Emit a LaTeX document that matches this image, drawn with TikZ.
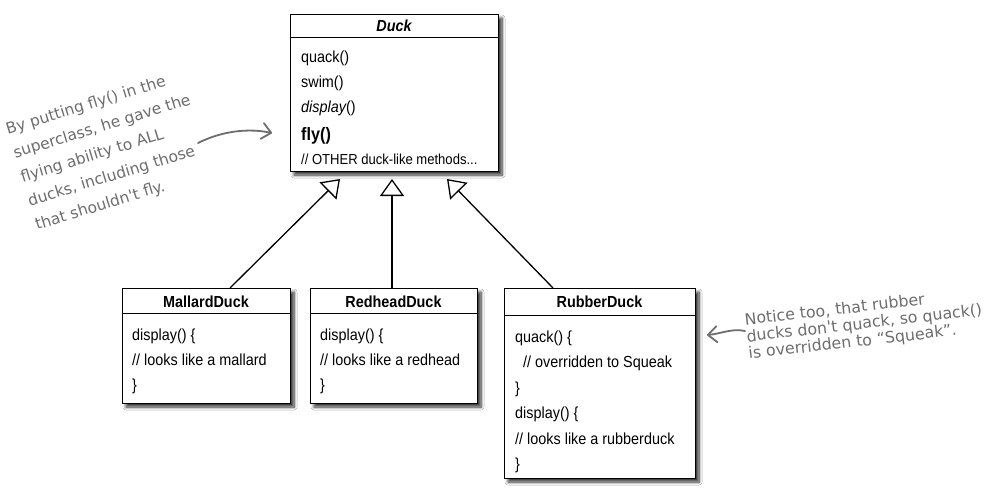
\documentclass[tikz,border=0pt]{standalone}
\usepackage{fontspec}
\usetikzlibrary{arrows.meta,shadows,shadows.blur}
\newfontfamily\boxfont[FakeStretch=0.9]{Liberation Sans}
\newfontfamily\notefont{DejaVu Sans}
\definecolor{notegrey}{HTML}{6E6E6E}
\begin{document}
\begin{tikzpicture}[x=1pt,y=-1pt,
  classbox/.style={draw=black, line width=0.9pt, fill=white, inner sep=0pt, outer sep=0pt,
    anchor=north west,
    blur shadow={shadow xshift=4pt, shadow yshift=-4pt, shadow blur steps=8, shadow blur radius=3pt, shadow opacity=80}},
  sep/.style={draw=black, line width=0.9pt},
  ln/.style={anchor=base west, inner sep=0pt, font=\boxfont\fontsize{16}{19}\selectfont},
  ttl/.style={anchor=base, inner sep=0pt, font=\boxfont\bfseries\fontsize{16}{19}\selectfont},
  inh/.style={draw=black, line width=1.3pt, -{Triangle[open, width=24pt, length=17pt, line width=1.3pt]}},
  note/.style={text=notegrey, align=left, inner sep=0pt, anchor=base west},
  hand/.style={draw=notegrey, line width=1.8pt, line cap=round,
    -{Straight Barb[length=9pt, width=16pt, line width=1.8pt, round]}}
]
\useasboundingbox[fill=white] (0,0) rectangle (994,498);

% ---- Duck
\node[classbox, minimum width=208pt, minimum height=157pt] (duck) at (290,14) {};
\draw[sep] (290,37) -- (498,37);
\node[ttl, font=\boxfont\bfseries\itshape\fontsize{16}{19}\selectfont] (duckT) at (394,31) {Duck};
\node[ln] (d1) at (301,62) {quack()};
\node[ln] (d2) at (301,87.5) {swim()};
\node[ln] (d3) at (301,112) {\itshape display\upshape()};
\node[ln, font=\boxfont\bfseries\fontsize{18}{20}\selectfont] (d4) at (301,140) {fly()};
\node[ln, font=\boxfont\fontsize{14.5}{17}\selectfont] (d5) at (301,164) {// OTHER duck-like methods...};

% ---- MallardDuck
\node[classbox, minimum width=168pt, minimum height=115pt] (mallard) at (122,288) {};
\draw[sep] (122,313.5) -- (290,313.5);
\node[ttl] (mT) at (206,307) {MallardDuck};
\node[ln] (m1) at (132,340) {display() \{};
\node[ln] (m2) at (132,365) {// looks like a mallard};
\node[ln] (m3) at (132,390) {\}};

% ---- RedheadDuck
\node[classbox, minimum width=167pt, minimum height=115pt] (redhead) at (310,288) {};
\draw[sep] (310,313.5) -- (477,313.5);
\node[ttl] (rT) at (393.5,307) {RedheadDuck};
\node[ln] (r1) at (320,340) {display() \{};
\node[ln] (r2) at (320,365) {// looks like a redhead};
\node[ln] (r3) at (320,390) {\}};

% ---- RubberDuck
\node[classbox, minimum width=191pt, minimum height=190pt] (rubber) at (504,288) {};
\draw[sep] (504,315) -- (695,315);
\node[ttl] (uT) at (599.5,307) {RubberDuck};
\node[ln] (u1) at (515,342) {quack() \{};
\node[ln] (u2) at (515,367.5) {\ \ // overridden to Squeak};
\node[ln] (u3) at (515,393) {\}};
\node[ln] (u4) at (515,418.5) {display() \{};
\node[ln] (u5) at (515,444) {// looks like a rubberduck};
\node[ln] (u6) at (515,469.5) {\}};

% ---- inheritance arrows
\coordinate (t1) at (340,179);
\coordinate (t2) at (392,179);
\coordinate (t3) at (447,179);
\draw[inh] ([xshift=24pt]mallard.north) -- (t1);
\draw[inh] (redhead.north -| t2) -- (t2);
\draw[inh] ([xshift=-46.5pt]rubber.north) -- (t3);

% ---- notes
\node[note, rotate=17, font=\notefont\fontsize{15.5}{25}\selectfont] (leftnote) at (37,230)
  {By putting fly() in the\\superclass, he gave the\\flying ability to ALL\\ducks, including those\\that shouldn't fly.};
\node[note, rotate=6.5, font=\notefont\fontsize{15.8}{17}\selectfont] (rightnote) at (749,359)
  {Notice too, that rubber\\ducks don't quack, so quack()\\is overridden to “Squeak”.};

\coordinate (la0) at (198,143);
\coordinate (la1) at (272,133);
\draw[hand] (la0) .. controls (222,131) and (248,128) .. (la1);
\coordinate (ra0) at (745,331);
\coordinate (ra1) at (707,335);
\draw[hand] (ra0) .. controls (732,328) and (720,334) .. (ra1);
\end{tikzpicture}
\end{document}
